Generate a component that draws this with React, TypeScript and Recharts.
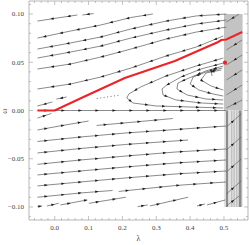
import React from "react";
import { ComposedChart, Scatter, XAxis, YAxis, ReferenceArea } from "recharts";

type Pt = [number, number];

// axis ranges and ticks
const xDomain = [-0.076, 0.571];
const yDomain = [-0.1135, 0.1135];
const xTicks = [
  -0.06, -0.04, -0.02, 0, 0.02, 0.04, 0.06, 0.08, 0.1, 0.12, 0.14, 0.16, 0.18, 0.2, 0.22, 0.24, 0.26,
  0.28, 0.3, 0.32, 0.34, 0.36, 0.38, 0.4, 0.42, 0.44, 0.46, 0.48, 0.5, 0.52, 0.54, 0.56,
];
const xMajor = [0, 0.1, 0.2, 0.3, 0.4, 0.5];
const yTicks = [
  -0.11, -0.1, -0.09, -0.08, -0.07, -0.06, -0.05, -0.04, -0.03, -0.02, -0.01, 0, 0.01, 0.02, 0.03,
  0.04, 0.05, 0.06, 0.07, 0.08, 0.09, 0.1, 0.11,
];
const yMajor = [-0.1, -0.05, 0, 0.05, 0.1];

// stream lines above the red separatrix, in flow direction (to the left)
const upperLines: Pt[][] = [
  [[0.067, 0.099], [0.008, 0.0959], [-0.051, 0.0927]],
  [[0.115, 0.1005], [0.082, 0.099]],
  [[0.29, 0.1], [0.225, 0.0964], [0.136, 0.0886], [0.047, 0.0824], [-0.051, 0.0751]],
  [[0.507, 0.1], [0.418, 0.098], [0.329, 0.0927], [0.225, 0.0845], [0.136, 0.0762], [0.047, 0.07], [-0.051, 0.0637]],
  [[0.507, 0.0938], [0.418, 0.0896], [0.329, 0.0834], [0.225, 0.0751], [0.136, 0.0668], [0.047, 0.0606], [-0.051, 0.0544]],
  [[0.507, 0.0865], [0.418, 0.0813], [0.329, 0.0741], [0.225, 0.0637], [0.136, 0.0554], [0.047, 0.0482], [-0.051, 0.043]],
  [[0.498, 0.0772], [0.418, 0.0658], [0.329, 0.0565], [0.225, 0.044], [0.136, 0.0347], [0.047, 0.0275], [-0.051, 0.0223]],
  [[-0.007, 0.0088], [-0.051, 0.0047]],
  [[0.035, 0.014], [0.005, 0.0119]],
];

// nested loops between the separatrix and omega = 0
const loopLines: Pt[][] = [
  [[0.498, 0.0544], [0.418, 0.0461], [0.329, 0.0358], [0.254, 0.0244], [0.219, 0.0171], [0.213, 0.013], [0.231, 0.0078], [0.299, 0.0047], [0.403, 0.0036], [0.498, 0.0026]],
  [[0.498, 0.0492], [0.432, 0.043], [0.373, 0.0347], [0.331, 0.0264], [0.317, 0.0223], [0.32, 0.0161], [0.358, 0.0109], [0.432, 0.0078], [0.498, 0.0067]],
  [[0.498, 0.0461], [0.447, 0.041], [0.397, 0.0337], [0.364, 0.0285], [0.361, 0.0223], [0.391, 0.0161], [0.447, 0.0119], [0.498, 0.0109]],
  [[0.495, 0.044], [0.447, 0.0399], [0.409, 0.0347], [0.4, 0.0275], [0.426, 0.0212], [0.468, 0.0171], [0.498, 0.015]],
  [[0.492, 0.042], [0.447, 0.0389], [0.432, 0.0316], [0.462, 0.0254], [0.498, 0.0212]],
  [[0.474, 0.044], [0.462, 0.041], [0.465, 0.0358]],
];
const dottedLine: Pt[] = [[0.124, 0.0124], [0.195, 0.0161]];

// stream lines below, in flow direction (to the right)
const lowerLines: Pt[][] = [
  [[-0.051, 0], [0.047, 0], [0.151, 0], [0.255, 0], [0.358, 0], [0.462, 0], [0.506, 0]],
  [[-0.051, -0.0078], [-0.01, -0.0031]],
  [[-0.051, -0.0202], [0.023, -0.0155], [0.1, -0.0109]],
  [[0.124, -0.0155], [0.237, -0.0119], [0.349, -0.0083]],
  [[-0.051, -0.0321], [0.076, -0.0275], [0.21, -0.0233], [0.358, -0.0197], [0.506, -0.0161]],
  [[-0.051, -0.044], [0.076, -0.0394], [0.21, -0.0352], [0.394, -0.0306]],
  [[-0.051, -0.0558], [0.076, -0.0513], [0.21, -0.0472], [0.358, -0.043], [0.506, -0.0399]],
  [[-0.051, -0.0668], [0.076, -0.0627], [0.21, -0.0585], [0.358, -0.0544], [0.506, -0.0513]],
  [[-0.051, -0.0782], [0.076, -0.0741], [0.21, -0.0699], [0.358, -0.0658], [0.506, -0.0627]],
  [[-0.051, -0.0899], [0.076, -0.0855], [0.171, -0.0829]],
  [[0.189, -0.0839], [0.358, -0.0777], [0.506, -0.0741]],
  [[-0.051, -0.0997], [-0.037, -0.099]],
  [[-0.023, -0.099], [0.012, -0.0962]],
  [[0.017, -0.0979], [0.096, -0.0927]],
  [[0.101, -0.0962], [0.21, -0.0899]],
  [[0.245, -0.0997], [0.275, -0.0979]],
  [[0.281, -0.099], [0.394, -0.0899]],
  [[0.42, -0.099], [0.444, -0.0969]],
  [[0.45, -0.0979], [0.504, -0.0927]],
];

// lines inside the shaded strip
const stripLines: Pt[][] = [
  [[0.545, 0.1], [0.507, 0.0917]],
  [[0.554, 0.0731], [0.507, 0.0627]],
  [[0.554, 0.0575], [0.507, 0.0472]],
  [[0.554, 0.042], [0.507, 0.0316]],
  [[0.554, 0.0264], [0.507, 0.0161]],
  [[0.554, 0.0109], [0.507, 0.0026]],
  [[0.507, -0.0171], [0.551, -0.0036]],
  [[0.507, -0.0409], [0.551, -0.0275]],
  [[0.507, -0.0637], [0.551, -0.0503]],
  [[0.507, -0.0865], [0.551, -0.0731]],
  [[0.507, -0.099], [0.545, -0.0886]],
];
const darkVerticals = [0.509, 0.547];
const lightVerticals = [0.523, 0.53, 0.538, 0.552];
const verticalSpan = [0, -0.1];
const bandLambda = [0.5, 0.555];
const bandUpper = [0, 0.1];
const bandLower = [-0.1, 0];

// red separatrix and fixed point
const separatrix: Pt[] = [
  [-0.051, 0], [0, 0], [0.085, 0.014], [0.207, 0.0337], [0.355, 0.0513], [0.483, 0.071], [0.492, 0.0731], [0.507, 0.0736], [0.554, 0.0813],
];
const fixedPoint: Pt[] = [[0.503, 0.0496]];

const W = 249;
const H = 245;
const PL = 29;
const PR = 248;
const PT = 1;
const PB = 220;
const PX_X = (PR - PL) / (xDomain[1] - xDomain[0]);
const PX_Y = (PB - PT) / (yDomain[1] - yDomain[0]);
const STREAM = "#4a4a4a";
const FRAME = "#9a9a9a";
const LABEL = "#444";
const FONT = "'Liberation Serif', 'DejaVu Serif', serif";
const ARROW_STEP = 17;

const toPts = (l: Pt[]) => l.map(([x, y]) => ({ x, y }));

// arrow heads placed every ARROW_STEP pixels along each stream line
function arrowsOf(lines: Pt[][]) {
  const out: { x: number; y: number; dx: number; dy: number }[] = [];
  lines.forEach((l) => {
    const lens = l.slice(1).map((p, i) => Math.hypot((p[0] - l[i][0]) * PX_X, (p[1] - l[i][1]) * PX_Y));
    const total = lens.reduce((a, b) => a + b, 0);
    let next = Math.min(ARROW_STEP / 2, total / 2);
    let acc = 0;
    lens.forEach((len, i) => {
      const [x0, y0] = l[i];
      const [x1, y1] = l[i + 1];
      while (next <= acc + len && len > 0) {
        const t = (next - acc) / len;
        out.push({ x: x0 + t * (x1 - x0), y: y0 + t * (y1 - y0), dx: x1 - x0, dy: y1 - y0 });
        next += ARROW_STEP;
      }
      acc += len;
    });
  });
  return out;
}

const arrowData = arrowsOf([...upperLines, ...loopLines, ...lowerLines, ...stripLines]);

const NoDot = () => <g />;

const Arrow = (props: any) => {
  const { cx, cy, payload } = props;
  const a = Math.atan2(-payload.dy * PX_Y, payload.dx * PX_X);
  const c = Math.cos(a);
  const s = Math.sin(a);
  const p = (u: number, v: number) => `${cx + u * c - v * s},${cy + u * s + v * c}`;
  return <polygon points={`${p(1.9, 0)} ${p(-1.5, 1.25)} ${p(-1.5, -1.25)}`} fill="#1e1e1e" />;
};

const RedDot = (props: any) => <circle cx={props.cx} cy={props.cy} r={2.1} fill="#e8262a" />;

const isIn = (arr: number[], v: number) => arr.some((m) => Math.abs(m - v) < 1e-9);

const XTick = (props: any) => {
  const { x, payload } = props;
  const major = isIn(xMajor, payload.value);
  const len = major ? 4 : 2;
  return (
    <g>
      <line x1={x} x2={x} y1={PB} y2={PB - len} stroke={FRAME} strokeWidth={0.6} />
      <line x1={x} x2={x} y1={PT} y2={PT + len} stroke={FRAME} strokeWidth={0.6} />
      {major && (
        <text x={x} y={230} textAnchor="middle" fontSize={7} fontFamily={FONT} fill={LABEL}>
          {payload.value.toFixed(1)}
        </text>
      )}
    </g>
  );
};

const YTick = (props: any) => {
  const { y, payload } = props;
  const v = payload.value;
  const major = isIn(yMajor, v);
  const len = major ? 4 : 2;
  const txt = (v < -1e-9 ? "\u2212" : "") + Math.abs(v).toFixed(2);
  return (
    <g>
      <line x1={PL} x2={PL + len} y1={y} y2={y} stroke={FRAME} strokeWidth={0.6} />
      <line x1={PR} x2={PR - len} y1={y} y2={y} stroke={FRAME} strokeWidth={0.6} />
      {major && (
        <text x={PL - 5} y={y} dy="0.33em" textAnchor="end" fontSize={7} fontFamily={FONT} fill={LABEL}>
          {txt}
        </text>
      )}
    </g>
  );
};

export default function App() {
  const streamLine = (l: Pt[], key: string, stroke = STREAM, width = 0.65, dash?: string) => (
    <Scatter
      key={key}
      data={toPts(l)}
      line={{ stroke, strokeWidth: width, strokeDasharray: dash }}
      shape={NoDot}
      isAnimationActive={false}
      legendType="none"
    />
  );

  return (
    <div style={{ position: "absolute", left: 0, top: 0, width: W, height: H, background: "#fff" }}>
      <ComposedChart width={W} height={H} margin={{ top: PT, right: W - PR, bottom: 0, left: 0 }}>
        <XAxis
          type="number"
          dataKey="x"
          domain={xDomain}
          ticks={xTicks}
          interval={0}
          allowDataOverflow
          tick={(p: any) => <XTick {...p} />}
          tickLine={false}
          axisLine={false}
          height={H - PB}
          label={{ value: "\u03bb", position: "insideBottom", offset: 4, fontSize: 8, fontFamily: FONT, fill: LABEL }}
        />
        <YAxis
          type="number"
          dataKey="y"
          domain={yDomain}
          ticks={yTicks}
          interval={0}
          allowDataOverflow
          tick={(p: any) => <YTick {...p} />}
          tickLine={false}
          axisLine={false}
          width={PL}
          label={{
            content: () => (
              <text x={4} y={111} transform="rotate(-90 4 111)" textAnchor="middle" dominantBaseline="central" fontSize={8} fontFamily={FONT} fill={LABEL}>
                {"\u03c9"}
              </text>
            ),
          }}
        />
        <ReferenceArea x1={bandLambda[0]} x2={bandLambda[1]} y1={bandUpper[0]} y2={bandUpper[1]} fill="#c3c3c3" fillOpacity={1} stroke="none" />
        <ReferenceArea x1={bandLambda[0]} x2={bandLambda[1]} y1={bandLower[0]} y2={bandLower[1]} fill="#e2e2e2" fillOpacity={1} stroke="none" />
        {lightVerticals.map((v, i) => streamLine([[v, verticalSpan[0]], [v, verticalSpan[1]]], "lv" + i, "#b4b4b4", 1))}
        {darkVerticals.map((v, i) => streamLine([[v, verticalSpan[0]], [v, verticalSpan[1]]], "dv" + i, "#8c8c8c", 2.2))}
        {upperLines.map((l, i) => streamLine(l, "u" + i))}
        {loopLines.map((l, i) => streamLine(l, "c" + i))}
        {lowerLines.map((l, i) => streamLine(l, "l" + i))}
        {stripLines.map((l, i) => streamLine(l, "s" + i, "#555", 0.6))}
        {streamLine(dottedLine, "dot", STREAM, 0.8, "1 2.5")}
        <Scatter data={arrowData} shape={Arrow} isAnimationActive={false} legendType="none" />
        {streamLine(separatrix, "red", "#e8262a", 2.2)}
        <Scatter data={toPts(fixedPoint)} shape={RedDot} isAnimationActive={false} legendType="none" />
        <ReferenceArea x1={xDomain[0]} x2={xDomain[1]} y1={yDomain[0]} y2={yDomain[1]} fill="none" stroke={FRAME} strokeWidth={0.7} />
      </ComposedChart>
    </div>
  );
}
